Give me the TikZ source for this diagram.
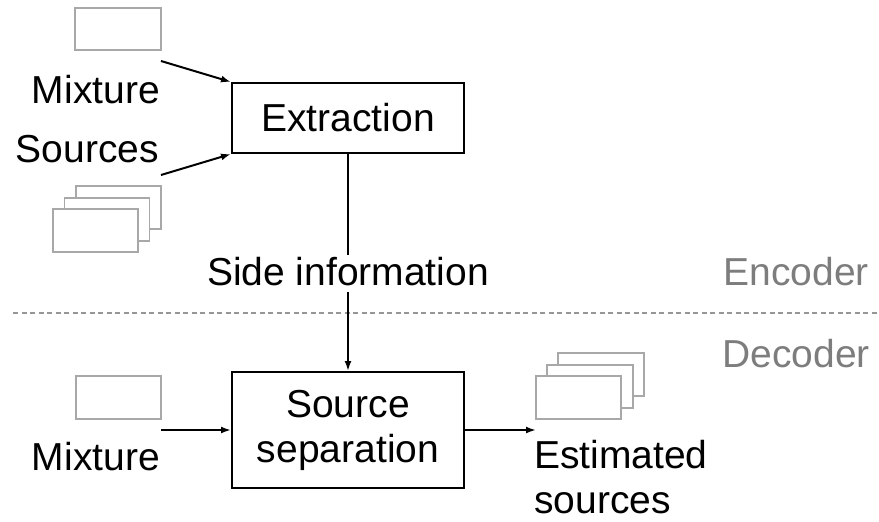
\documentclass[tikz,border=0pt]{standalone}
\usepackage{fontspec}
\setmainfont{Liberation Sans}
\usetikzlibrary{arrows.meta}
\definecolor{framegray}{RGB}{168,168,168}
\definecolor{labelgray}{RGB}{125,125,125}
\definecolor{dashgray}{RGB}{150,150,150}
\begin{document}
\begin{tikzpicture}[x=1pt,y=-1pt,
  txt/.style={inner sep=0pt,font=\fontsize{39}{45}\selectfont},
  graytxt/.style={txt,text=labelgray},
  blockbox/.style={draw,line width=2pt,inner sep=0pt,font=\fontsize{39}{45}\selectfont,align=center},
  sigbox/.style={draw=framegray,line width=1.3pt,fill=white},
  arr/.style={line width=2pt,-{Latex[length=10pt,width=7pt]}},
  plainline/.style={line width=2pt}]
\useasboundingbox (0,0) rectangle (879,522);

% encoder part
\node[sigbox,minimum width=86pt,minimum height=42pt] (mixA) at (118,29) {};
\node[txt,anchor=base east] (mixAlbl) at (160,103) {Mixture};
\node[txt,anchor=base east] (srclbl) at (159,162) {Sources};
\node[sigbox,minimum width=85pt,minimum height=43pt] (srcC) at (118.5,207.5) {};
\node[sigbox,minimum width=85pt,minimum height=43pt] (srcB) at (107,219.5) {};
\node[sigbox,minimum width=85pt,minimum height=43pt] (srcA) at (95.5,230.5) {};

\node[blockbox,minimum width=232pt,minimum height=70pt] (ext) at (348,118) {Extraction};

\coordinate (mixAout) at (161,61);
\coordinate (srcout) at (161,175);
\draw[arr] (mixAout) -- (ext.north west);
\draw[arr] (srcout) -- (ext.south west);

\node[txt,anchor=base] (side) at (348,285) {Side information};
\draw[plainline] (ext.south) -- ([yshift=30pt]side.base);

% separator
\coordinate (dashL) at (13,313);
\coordinate (dashR) at (879,313);
\draw[dashgray,line width=1.2pt,dash pattern=on 5pt off 3.5pt] (dashL) -- (dashR);
\node[graytxt,anchor=base east] (enc) at (869,285) {Encoder};
\node[graytxt,anchor=base east] (dec) at (870,367) {Decoder};

% decoder part
\node[blockbox,minimum width=232pt,minimum height=116pt] (sep) at (348,430) {Source\\separation};
\draw[arr] ([yshift=-7pt]side.base) -- (sep.north);

\node[sigbox,minimum width=85pt,minimum height=43pt] (mixB) at (118.5,397.5) {};
\node[txt,anchor=base east] (mixBlbl) at (160,470) {Mixture};
\coordinate (mixBout) at (161,430);
\draw[arr] (mixBout) -- (sep.west);

\coordinate (estin) at (536,430);
\draw[arr] (sep.east) -- (estin);
\node[sigbox,minimum width=86pt,minimum height=43pt] (estC) at (601,374.5) {};
\node[sigbox,minimum width=86pt,minimum height=43pt] (estB) at (590,386.5) {};
\node[sigbox,minimum width=85pt,minimum height=43pt] (estA) at (578.5,397.5) {};
\node[txt,anchor=base west] (estlbl1) at (534,468) {Estimated};
\node[txt,anchor=base west] (estlbl2) at (534,513) {sources};
\end{tikzpicture}
\end{document}
